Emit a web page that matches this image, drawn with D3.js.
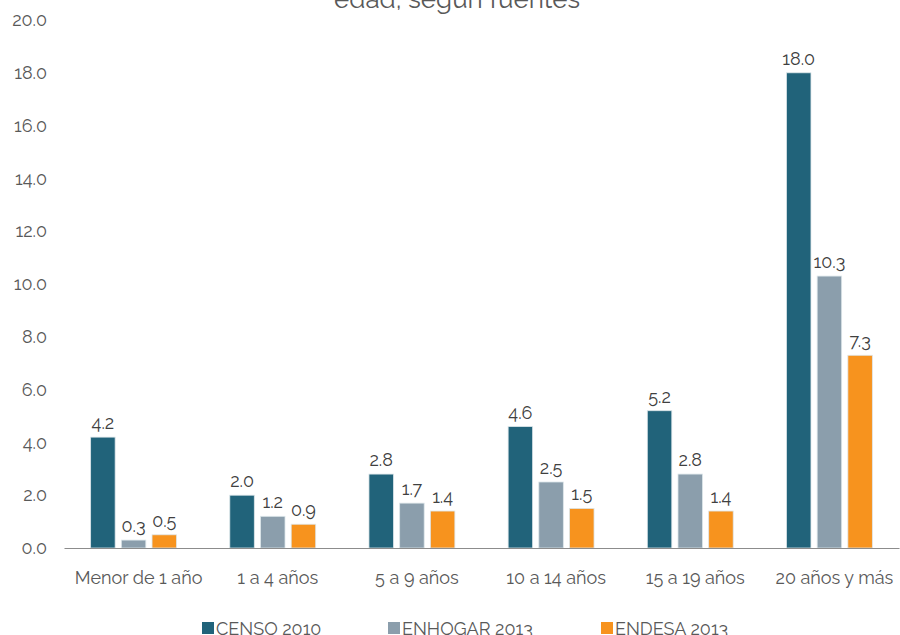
<!DOCTYPE html>
<html>
<head>
<meta charset="utf-8">
<script src="https://cdn.jsdelivr.net/npm/d3@7"></script>
<style>
  html, body { margin: 0; padding: 0; background: #fff; }
  svg { display: block; font-family: Raleway, Lato, "Open Sans", sans-serif; }
</style>
</head>
<body>
<svg id="chart" width="900" height="635"></svg>
<script>
// Age groups along the x axis
const categories = ["Menor de 1 año", "1 a 4 años", "5 a 9 años", "10 a 14 años", "15 a 19 años", "20 años y más"];
// One series per source
const seriesNames = ["CENSO 2010", "ENHOGAR 2013", "ENDESA 2013"];
const censo2010 = [4.2, 2.0, 2.8, 4.6, 5.2, 18.0];
const enhogar2013 = [0.3, 1.2, 1.7, 2.5, 2.8, 10.3];
const endesa2013 = [0.5, 0.9, 1.4, 1.5, 1.4, 7.3];
const yTicks = [0, 2, 4, 6, 8, 10, 12, 14, 16, 18, 20];
const titleText = "edad, según fuentes";

const seriesValues = [censo2010, enhogar2013, endesa2013];
const colors = ["#21637a", "#8b9eac", "#f7931e"];

const svg = d3.select("#chart");

const x = d3.scaleBand().domain(categories).range([64, 899]).padding(0);
const y = d3.scaleLinear().domain([0, 20]).range([548, 20]);

const barW = 24.5, barStep = 30.7;
const barX = (cat, i) => x(cat) + x.bandwidth() / 2 + (i - 1) * barStep - barW / 2;

// Title (partly above the visible area)
svg.append("text")
  .attr("x", 457).attr("y", 8)
  .attr("text-anchor", "middle")
  .attr("font-size", 26)
  .attr("fill", "#595959")
  .text(titleText);

// Y axis labels (no axis line)
const yAxis = d3.axisLeft(y).tickValues(yTicks).tickFormat(d3.format(".1f")).tickSize(0).tickPadding(0);
const yg = svg.append("g").attr("transform", "translate(47,0)").call(yAxis)
  .attr("font-family", null).attr("font-size", null);
yg.select(".domain").remove();
yg.selectAll("text").attr("font-size", 18).attr("fill", "#595959");

// Bars
seriesValues.forEach((vals, i) => {
  const g = svg.append("g");
  g.selectAll("rect").data(categories).join("rect")
    .attr("x", (c) => barX(c, i))
    .attr("y", (c, j) => y(vals[j]))
    .attr("width", barW)
    .attr("height", (c, j) => y(0) - y(vals[j]))
    .attr("fill", colors[i])
    .attr("stroke", "#dde6ea")
    .attr("stroke-width", 0.8);
  g.selectAll("text").data(categories).join("text")
    .attr("x", (c) => barX(c, i) + barW / 2)
    .attr("y", (c, j) => y(vals[j]) - 8)
    .attr("text-anchor", "middle")
    .attr("font-size", 18)
    .attr("fill", "#404040")
    .text((c, j) => vals[j].toFixed(1));
});

// X axis
const xAxis = d3.axisBottom(x).tickSize(0).tickPadding(0);
const xg = svg.append("g").attr("transform", `translate(0,${y(0)})`).call(xAxis)
  .attr("font-family", null).attr("font-size", null);
xg.select(".domain").attr("stroke", "#8c8c8c").attr("stroke-width", 1.2);
xg.selectAll(".tick text")
  .attr("y", 36).attr("dy", null).attr("dx", 5)
  .attr("font-size", 18).attr("fill", "#595959");

// Legend
const legendX = [202, 388, 601];
const lg = svg.append("g");
seriesNames.forEach((name, i) => {
  lg.append("rect").attr("x", legendX[i]).attr("y", 622).attr("width", 12).attr("height", 12).attr("fill", colors[i]);
  lg.append("text").attr("x", legendX[i] + 14).attr("y", 635)
    .attr("font-size", 18).attr("fill", "#595959").text(name);
});
</script>
</body>
</html>
